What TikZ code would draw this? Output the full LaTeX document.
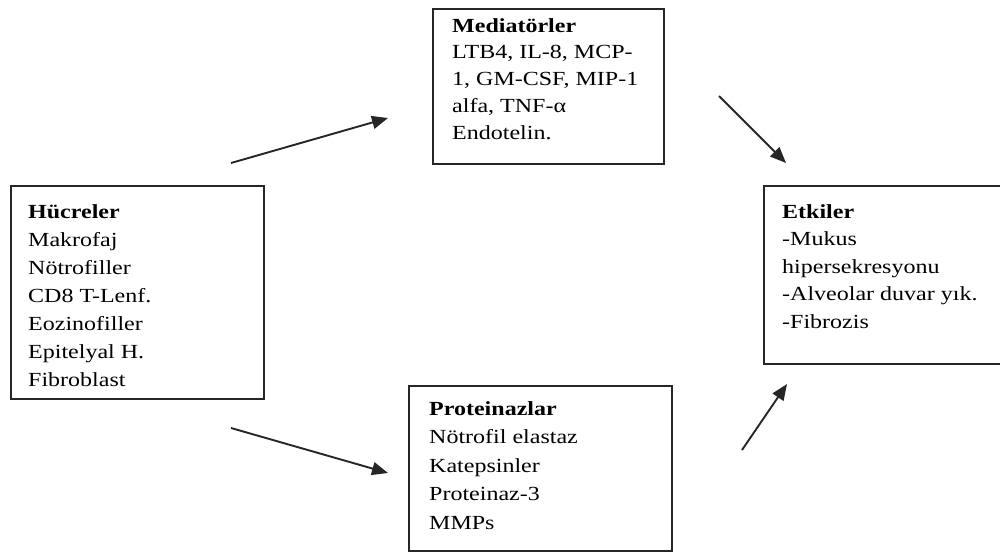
\documentclass[tikz,border=0pt]{standalone}
\usepackage{fontspec}
\setmainfont[FakeStretch=1.2]{Liberation Serif}
\usetikzlibrary{arrows.meta}
\tikzset{
  box/.style={draw=black!85, line width=1.5pt, inner sep=0pt},
  txt/.style={inner sep=0pt, anchor=north west, align=left, text=black},
  arr/.style={line width=1.9pt, draw=black!85, -{Triangle[length=16pt,width=13pt]}}
}
\begin{document}
\begin{tikzpicture}[x=1pt,y=-1pt]
\useasboundingbox (0,0) rectangle (1000,552);
% boxes
\node[box, minimum width=253pt, minimum height=213pt, anchor=north west] (hb) at (10,185) {};
\node[box, minimum width=231pt, minimum height=155pt, anchor=north west] (mb) at (432,8) {};
\node[box, minimum width=263pt, minimum height=165pt, anchor=north west] (pb) at (408,385) {};
\node[box, minimum width=245pt, minimum height=178pt, anchor=north west] (eb) at (763,185) {};
% texts
\node[txt, font=\fontsize{20}{28}\selectfont] (ht) at (28,198.4)
  {\strut\textbf{Hücreler}\\Makrofaj\\Nötrofiller\\CD8 T-Lenf.\\Eozinofiller\\Epitelyal H.\\Fibroblast};
\node[txt, font=\fontsize{20}{26.8}\selectfont] (mt) at (452,13.2)
  {\strut\textbf{Mediatörler}\\LTB4, IL-8, MCP-\\1, GM-CSF, MIP-1\\alfa, TNF-α\\Endotelin.};
\node[txt, font=\fontsize{20}{28.5}\selectfont] (pt) at (429,395)
  {\strut\textbf{Proteinazlar}\\Nötrofil elastaz\\Katepsinler\\Proteinaz-3\\MMPs};
\node[txt, font=\fontsize{20}{27.5}\selectfont] (et) at (782,198.7)
  {\strut\textbf{Etkiler}\\-Mukus\\hipersekresyonu\\-Alveolar duvar yık.\\-Fibrozis};
% arrow end points
\coordinate (a1s) at (231,163); \coordinate (a1e) at (388,118);
\coordinate (a2s) at (231,428); \coordinate (a2e) at (388,473);
\coordinate (a3s) at (719,96);  \coordinate (a3e) at (786,163);
\coordinate (a4s) at (742,450); \coordinate (a4e) at (787,384);
\draw[arr] (a1s) -- (a1e);
\draw[arr] (a2s) -- (a2e);
\draw[arr] (a3s) -- (a3e);
\draw[arr] (a4s) -- (a4e);
\end{tikzpicture}
\end{document}
